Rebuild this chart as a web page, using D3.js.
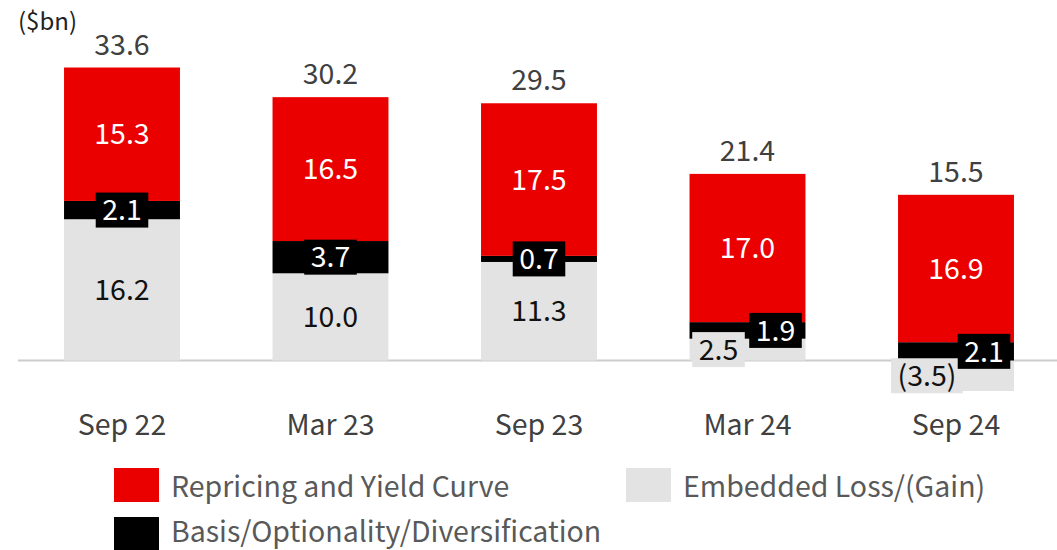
<!DOCTYPE html>
<html>
<head>
<meta charset="utf-8">
<script src="https://cdn.jsdelivr.net/npm/d3@7"></script>
<style>
  html, body { margin: 0; padding: 0; background: #fff; }
  svg text { font-family: "Noto Sans CJK JP", "Source Sans Pro", "Noto Sans", sans-serif; }
</style>
</head>
<body>
<svg id="chart" width="1057" height="550"></svg>
<script>
// Interest-rate risk components by reporting period ($bn)
const categories = ["Sep 22", "Mar 23", "Sep 23", "Mar 24", "Sep 24"];
const repricing  = [15.3, 16.5, 17.5, 17.0, 16.9];
const basis      = [2.1, 3.7, 0.7, 1.9, 2.1];
const embedded   = [16.2, 10.0, 11.3, 2.5, -3.5];
const totals     = [33.6, 30.2, 29.5, 21.4, 15.5];

const seriesNames = {
  embedded: "Embedded Loss/(Gain)",
  basis: "Basis/Optionality/Diversification",
  repricing: "Repricing and Yield Curve"
};

const colors = { repricing: "#eb0000", basis: "#000000", embedded: "#e3e3e3" };
const labelColors = { repricing: "#ffffff", basis: "#ffffff", embedded: "#111111" };

const rows = categories.map((c, i) => ({
  category: c,
  embedded: embedded[i],
  basis: basis[i],
  repricing: repricing[i],
  total: totals[i]
}));

const keys = ["embedded", "basis", "repricing"];
const stacked = d3.stack().keys(keys).offset(d3.stackOffsetDiverging)(rows);

const svg = d3.select("#chart");
const fontSize = 28.5;

const x = d3.scaleBand()
  .domain(categories)
  .range([17.75, 1060.25])
  .paddingInner(0.444)
  .paddingOuter(0.222);

const y = d3.scaleLinear().domain([-10, 40]).range([447.7, 11.7]);

const fmt = v => v < 0 ? "(" + d3.format(".1f")(-v) + ")" : d3.format(".1f")(v);

// unit label
svg.append("text")
  .attr("x", 18).attr("y", 30)
  .attr("font-size", 24)
  .attr("fill", "#222")
  .text("($bn)");

// zero line
svg.append("line")
  .attr("x1", 18).attr("x2", 1057)
  .attr("y1", y(0)).attr("y2", y(0))
  .attr("stroke", "#cccccc").attr("stroke-width", 2);

// stacked bars
const layers = svg.append("g").selectAll("g")
  .data(stacked).join("g")
  .attr("fill", d => colors[d.key]);

layers.selectAll("rect")
  .data(d => d).join("rect")
  .attr("x", d => x(d.data.category))
  .attr("width", x.bandwidth())
  .attr("y", d => y(Math.max(d[0], d[1])))
  .attr("height", d => Math.abs(y(d[0]) - y(d[1])));

// segment labels; thin embedded + basis pairs are staggered sideways
const labelG = svg.append("g");
stacked.forEach(layer => {
  layer.forEach(d => {
    const key = layer.key;
    const v = d.data[key];
    const cx0 = x(d.data.category) + x.bandwidth() / 2;
    const cy = (y(d[0]) + y(d[1])) / 2;
    const stagger = Math.abs(d.data.embedded) < 5;
    let cx = cx0;
    if (stagger && key === "embedded") cx = cx0 - 29;
    if (stagger && key === "basis") cx = cx0 + 28;

    const g = labelG.append("g");
    const t = g.append("text")
      .attr("x", cx)
      .attr("y", cy + fontSize * 0.36)
      .attr("text-anchor", "middle")
      .attr("font-size", fontSize)
      .attr("fill", labelColors[key])
      .text(fmt(v));

    const needsBox = key === "basis" || (key === "embedded" && stagger);
    if (needsBox) {
      const bb = t.node().getBBox();
      const padX = 6.5, h = 35;
      g.insert("rect", "text")
        .attr("x", bb.x - padX)
        .attr("y", cy - h / 2)
        .attr("width", bb.width + padX * 2)
        .attr("height", h)
        .attr("fill", colors[key]);
    }
  });
});

// totals above each bar
const topLayer = stacked[stacked.length - 1];
svg.append("g").selectAll("text")
  .data(topLayer).join("text")
  .attr("x", d => x(d.data.category) + x.bandwidth() / 2)
  .attr("y", d => y(d[1]) - 13)
  .attr("text-anchor", "middle")
  .attr("font-size", fontSize)
  .attr("fill", "#404040")
  .text(d => fmt(d.data.total));

// category axis
const axis = svg.append("g")
  .attr("transform", `translate(0, ${y(0)})`)
  .call(d3.axisBottom(x).tickSize(0).tickPadding(0));
axis.select(".domain").remove();
axis.selectAll("text")
  .attr("y", 74)
  .attr("dy", 0)
  .attr("font-size", fontSize)
  .attr("font-family", null)
  .attr("fill", "#404040");

// legend
const legendItems = [
  { key: "repricing", x: 114, y: 468, ty: 29 },
  { key: "embedded", x: 626, y: 468, ty: 29 },
  { key: "basis", x: 114, y: 517, ty: 25 }
];
const legend = svg.append("g").selectAll("g")
  .data(legendItems).join("g")
  .attr("transform", d => `translate(${d.x}, ${d.y})`);
legend.append("rect")
  .attr("width", 45).attr("height", 34)
  .attr("fill", d => colors[d.key]);
legend.append("text")
  .attr("x", 57).attr("y", d => d.ty)
  .attr("font-size", fontSize)
  .attr("fill", "#595959")
  .text(d => seriesNames[d.key]);
</script>
</body>
</html>
